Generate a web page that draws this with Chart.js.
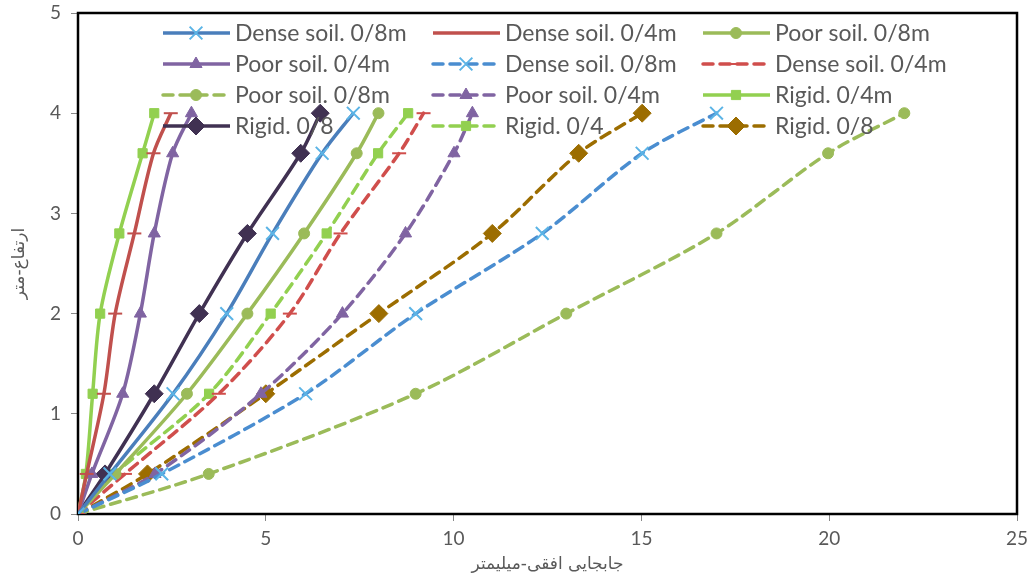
<!DOCTYPE html>
<html>
<head>
<meta charset="utf-8">
<script src="https://cdn.jsdelivr.net/npm/chart.js@4"></script>
<style>
  html, body { margin: 0; padding: 0; background: #fff; }
  #wrap { width: 1030px; height: 581px; }
</style>
</head>
<body>
<div id="wrap"><canvas id="grafico" width="1030" height="581"></canvas></div>
<script>
'use strict';

// alturas comuns (m)
var alturas = [0, 0.4, 1.2, 2, 2.8, 3.6, 4];

// deslocamento horizontal (mm) por serie
var denso08 = [0, 0.85, 2.53, 3.96, 5.18, 6.5, 7.33];
var denso04 = [0, 0.23, 0.69, 0.99, 1.5, 2.01, 2.47];
var pobre08 = [0, 1.0, 2.9, 4.51, 6.02, 7.42, 8.0];
var pobre04 = [0, 0.37, 1.19, 1.66, 2.03, 2.52, 3.02];
var denso08b = [0, 2.23, 6.06, 8.99, 12.36, 15.02, 17.0];
var denso04b = [0, 1.25, 3.75, 5.64, 6.99, 8.55, 9.2];
var pobre08b = [0, 3.48, 8.99, 13.0, 17.0, 19.97, 22.0];
var pobre04b = [0, 2.05, 4.87, 7.04, 8.72, 10.01, 10.5];
var rigido04 = [0, 0.21, 0.39, 0.59, 1.1, 1.72, 2.03];
var rigido08 = [0, 0.72, 2.03, 3.23, 4.51, 5.93, 6.45];
var rigido04b = [0, 0.98, 3.49, 5.13, 6.62, 7.99, 8.79];
var rigido08b = [0, 1.85, 5.0, 8.01, 11.03, 13.33, 15.02];

var rotulos = [
  'Dense soil. 0/8m', 'Dense soil. 0/4m', 'Poor soil. 0/8m',
  'Poor soil. 0/4m', 'Dense soil. 0/8m', 'Dense soil. 0/4m',
  'Poor soil. 0/8m', 'Poor soil. 0/4m', 'Rigid. 0/4m',
  'Rigid. 0/8', 'Rigid. 0/4', 'Rigid. 0/8'
];

var tracejado = [10, 7];

function pontos(xs) {
  return xs.map(function (v, i) { return {x: v, y: alturas[i]}; });
}

function serie(idx, xs, cor, estilo, raio, corMarca, dash) {
  return {
    label: rotulos[idx],
    data: pontos(xs),
    showLine: true,
    borderColor: cor,
    backgroundColor: corMarca || cor,
    borderWidth: 3.5,
    borderDash: dash ? tracejado : [],
    borderCapStyle: dash ? 'round' : 'butt',
    tension: 0.3,
    pointStyle: estilo,
    pointRadius: raio,
    pointHoverRadius: raio,
    pointBackgroundColor: corMarca || cor,
    pointBorderColor: corMarca || cor,
    pointBorderWidth: (estilo === 'crossRot' || estilo === 'line') ? 2 : 1
  };
}

var datasets = [
  serie(0, denso08, '#4A7EBB', 'crossRot', 9, '#5BB4E6', false),
  serie(1, denso04, '#C0504D', 'line', 7, null, false),
  serie(2, pobre08, '#9BBB59', 'circle', 5.5, null, false),
  serie(3, pobre04, '#8064A2', 'triangle', 7, null, false),
  serie(4, denso08b, '#4A8DD0', 'crossRot', 9, '#5BB4E6', true),
  serie(5, denso04b, '#D04E4C', 'line', 7, null, true),
  serie(6, pobre08b, '#9BBB59', 'circle', 5.5, null, true),
  serie(7, pobre04b, '#8064A2', 'triangle', 7, null, true),
  serie(8, rigido04, '#92D050', 'rect', 6.5, null, false),
  serie(9, rigido08, '#403152', 'rectRot', 9, null, false),
  serie(10, rigido04b, '#92D050', 'rect', 6.5, null, true),
  serie(11, rigido08b, '#9C6D00', 'rectRot', 9, null, true)
];

// moldura preta em volta da area do grafico
var moldura = {
  id: 'moldura',
  beforeDatasetsDraw: function (chart) {
    var a = chart.chartArea;
    var ctx = chart.ctx;
    ctx.save();
    ctx.strokeStyle = '#000';
    ctx.lineWidth = 2.5;
    ctx.strokeRect(a.left, a.top, a.right - a.left, a.bottom - a.top);
    ctx.restore();
  }
};

// legenda em grade 3 colunas dentro do grafico
var legendaGrade = {
  id: 'legendaGrade',
  afterDatasetsDraw: function (chart) {
    var ctx = chart.ctx;
    var colX = [163, 433, 703];
    var linY = [33, 64, 95, 126];
    ctx.save();
    chart.data.datasets.forEach(function (ds, i) {
      var x = colX[i % 3];
      var y = linY[Math.floor(i / 3)];
      ctx.strokeStyle = ds.borderColor;
      ctx.lineWidth = 3.5;
      ctx.lineCap = ds.borderCapStyle;
      ctx.setLineDash(ds.borderDash);
      ctx.beginPath();
      ctx.moveTo(x, y);
      ctx.lineTo(x + 67, y);
      ctx.stroke();
      ctx.setLineDash([]);
      ctx.lineCap = 'butt';
      ctx.fillStyle = ds.pointBackgroundColor;
      ctx.strokeStyle = ds.pointBorderColor;
      ctx.lineWidth = ds.pointBorderWidth;
      if (Chart.helpers && Chart.helpers.drawPoint) {
        Chart.helpers.drawPoint(ctx, {
          pointStyle: ds.pointStyle,
          radius: ds.pointRadius,
          rotation: 0,
          borderWidth: ds.pointBorderWidth
        }, x + 33, y);
      }
      ctx.fillStyle = '#595959';
      ctx.font = '23px Lato';
      ctx.textBaseline = 'middle';
      ctx.textAlign = 'left';
      ctx.fillText(ds.label, x + 72, y + 1);
    });
    ctx.restore();
  }
};

var ctx = document.getElementById('grafico');
var chart = new Chart(ctx, {
  type: 'scatter',
  data: { datasets: datasets },
  plugins: [moldura, legendaGrade],
  options: {
    responsive: false,
    animation: false,
    layout: { padding: { top: 13, right: 13, left: 0, bottom: 0 } },
    plugins: {
      legend: { display: false },
      tooltip: { enabled: false }
    },
    scales: {
      x: {
        type: 'linear',
        min: 0,
        max: 25,
        ticks: { stepSize: 5, color: '#595959', font: { family: 'Lato', size: 19 }, padding: 6 },
        grid: { drawOnChartArea: false, drawTicks: true, tickLength: 7, color: '#888' },
        border: { display: false },
        title: {
          display: true,
          text: 'جابجایی افقی-میلیمتر',
          color: '#595959',
          font: { family: 'DejaVu Sans', size: 17 },
          padding: { top: 0, bottom: 6 }
        },
        afterFit: function (s) {
          s.height = 67;
          s.paddingLeft = 0;
          s.paddingRight = 0;
        }
      },
      y: {
        type: 'linear',
        min: 0,
        max: 5,
        ticks: { stepSize: 1, color: '#595959', font: { family: 'Lato', size: 19 }, padding: 10 },
        grid: { drawOnChartArea: false, drawTicks: true, tickLength: 7, color: '#888' },
        border: { display: false },
        title: {
          display: true,
          text: 'ارتفاع-متر',
          color: '#595959',
          font: { family: 'DejaVu Sans', size: 17 },
          padding: { top: 9, bottom: 0 }
        },
        afterFit: function (s) {
          s.width = 78;
          s.paddingTop = 0;
          s.paddingBottom = 0;
        }
      }
    }
  }
});
</script>
</body>
</html>
